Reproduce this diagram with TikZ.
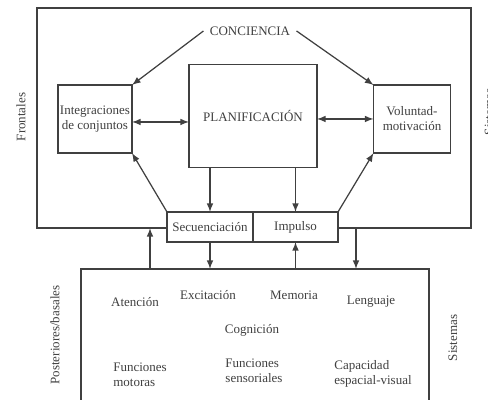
\documentclass[tikz,border=0pt]{standalone}
\usepackage{fontspec}
\setmainfont{Liberation Serif}
\usepackage{tikz}
\usetikzlibrary{arrows.meta,positioning,calc}
\tikzstyle{box} = [draw,fill=white,outer sep=0pt,inner sep=1pt,align=center]
\tikzset{>=latex}

\begin{document}
\begin{tikzpicture}[font=\fontsize{7.4}{8.6}\selectfont, line width=0.7pt, color=black!75]
    \useasboundingbox (0,0) rectangle (9.76,8);

    \node [box, minimum width=8.68cm, minimum height=4.40cm] (front) at (5.08,5.64) {};
    \node (conc) at (5.0,7.38) {CONCIENCIA};
    \node [box, minimum width=1.48cm, minimum height=1.36cm] (integ) at (1.90,5.62) {Integraciones\\de conjuntos};
    \node [box, minimum width=2.56cm, minimum height=2.06cm] (plan) at (5.06,5.68) {PLANIFICACIÓN};
    \node [box, minimum width=1.54cm, minimum height=1.36cm] (volun) at (8.24,5.62) {Voluntad-\\motivación};
    \node [box, minimum width=1.72cm, minimum height=0.60cm] (secu) at (4.20,3.46) {Secuenciación};
    \node [box, minimum width=1.70cm, minimum height=0.60cm, right=0pt of secu] (imp) {Impulso};

    \node [box, minimum width=6.96cm, minimum height=2.92cm] (post) at (5.10,1.16) {};
    \node (aten) at (2.70,1.96) {Atención};
    \node (exci) at (4.16,2.10) {Excitación};
    \node (memo) at (5.88,2.10) {Memoria};
    \node (leng) at (7.42,1.96) {Lenguaje};
    \node (cogn) at (5.04,1.40) {Cognición};
    \node [align=left] (motor) at (2.80,0.50) {Funciones\\motoras};
    \node [align=left] (senso) at (5.08,0.58) {Funciones\\sensoriales};
    \node [align=left] (espac) at (7.46,0.53) {Capacidad\\espacial-visual};

    \node [rotate=90] (frontal) at (0.42,5.66) {Frontales};
    \node [rotate=90] (basal) at (1.10,1.30) {Posteriores/basales};
    \node [rotate=90] (sist) at (9.06,1.24) {Sistemas};
    \node [rotate=90] (sisttop) at (9.78,5.76) {Sistemas};

    \draw [->] (conc.west) -- (integ.north east);
    \draw [->] (conc.east) -- (volun.north west);
    \draw [<->] ([yshift=-1.7pt]integ.east) -- ([yshift=-1.7pt]integ.east -| plan.west);
    \draw [<->] ([yshift=-1.7pt]plan.east -| volun.west) -- ([yshift=-1.7pt]plan.east -| plan.east);
    \draw [->] (secu.north |- plan.south) -- (secu.north);
    \draw [->] (imp.north |- plan.south) -- (imp.north);
    \draw [->] (secu.north west) -- (integ.south east);
    \draw [->] (imp.north east) -- (volun.south west);

    \coordinate (upin) at (3.00,3.44);
    \coordinate (downout) at (7.12,3.44);
    \draw [->] (secu.south) -- (secu.south |- post.north);
    \draw [->] (imp.south |- post.north) -- (imp.south);
    \draw [->] (upin |- post.north) -- (upin);
    \draw [->] (downout) -- (downout |- post.north);
  \end{tikzpicture}
\end{document}
